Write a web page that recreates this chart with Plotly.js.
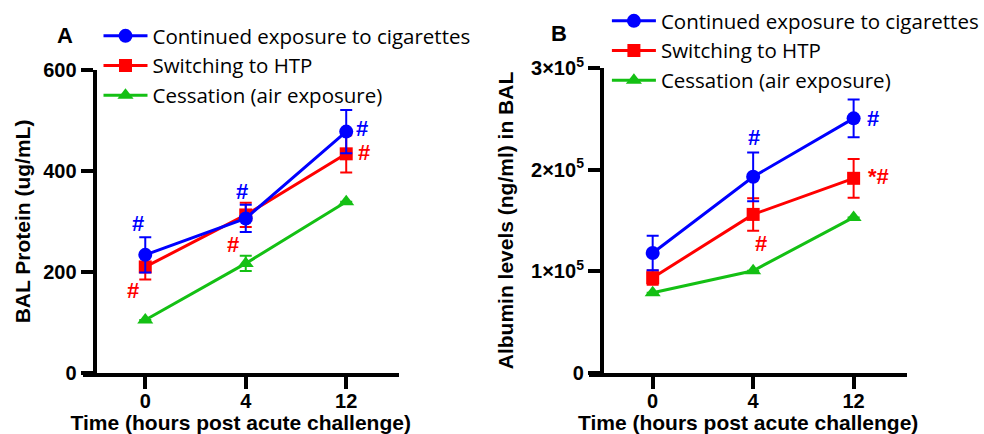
<!DOCTYPE html>
<html>
<head>
<meta charset="utf-8">
<script src="https://cdn.plot.ly/plotly-3.0.1.min.js"></script>
<style>html,body{margin:0;padding:0;background:#fff;}#chart{width:984px;height:434px;}</style>
</head>
<body>
<div id="chart"></div>
<script>
// ---- data ----
const timeLabels = ["0", "4", "12"];
const seriesNames = ["Continued exposure to cigarettes", "Switching to HTP", "Cessation (air exposure)"];

// Panel A: BAL Protein (ug/mL)
const protCig = [234, 306, 478];
const protCigErr = [35, 27, 43];
const protHtp = [210, 313, 434];
const protHtpErr = [25, 24, 37];
const protAir = [105, 217, 339];
const protAirErr = [0, 15, 0];

// Panel B: Albumin (ng/ml)
const albCig = [118000, 193000, 250500];
const albCigErr = [17000, 24000, 18500];
const albHtp = [93700, 156000, 191500];
const albHtpErr = [7000, 16000, 19000];
const albAir = [79000, 100600, 153000];
const albAirErr = [0, 0, 0];

const albTickVals = [0, 100000, 200000, 300000];
const albTickText = ["0", "1×10<sup>5</sup>", "2×10<sup>5</sup>", "3×10<sup>5</sup>"];

// significance marks: [panel, series, index, text]
const sigMarks = [
  ["A", "cig", 0, "#"], ["A", "cig", 1, "#"], ["A", "cig", 2, "#"],
  ["A", "htp", 0, "#"], ["A", "htp", 1, "#"], ["A", "htp", 2, "#"],
  ["B", "cig", 1, "#"], ["B", "cig", 2, "#"],
  ["B", "htp", 1, "#"], ["B", "htp", 2, "*#"]
];
// label offsets in pixels (style)
const sigOffsets = [[-7,31],[-4,27],[16,3],[-12,-24],[-13,-30],[18,1],[1,39],[19,0],[8,-29],[25,2]];

// ---- style ----
const BLUE = "#0000FF", RED = "#FF0000", GREEN = "#14C014";
const W = 984, H = 434;
const px = v => v / W, py = v => 1 - v / H;
const FAM = "Liberation Sans, Arial, sans-serif";
const axisFont = {family: FAM, size: 20, color: "#000", weight: "bold"};
const titleFont = {family: FAM, size: 21, color: "#000", weight: "bold"};
const legendFont = {family: "Open Sans, sans-serif", size: 20.5, color: "#000"};

function mk(name, x, y, err, color, symbol, size, xa, ya, legend, rank) {
  return {
    type: "scatter", mode: "lines+markers", name: name,
    x: x, y: y, xaxis: xa, yaxis: ya, legend: legend, legendrank: rank,
    line: {color: color, width: 3},
    marker: {color: color, symbol: symbol, size: size},
    error_y: {type: "data", array: err, visible: true, color: color, thickness: 2, width: 6},
    cliponaxis: false
  };
}

const traces = [
  mk(seriesNames[2], timeLabels, protAir, protAirErr, GREEN, "triangle-up", 14, "x", "y", "legend", 3),
  mk(seriesNames[1], timeLabels, protHtp, protHtpErr, RED, "square", 13, "x", "y", "legend", 2),
  mk(seriesNames[0], timeLabels, protCig, protCigErr, BLUE, "circle", 14, "x", "y", "legend", 1),
  mk(seriesNames[2], timeLabels, albAir, albAirErr, GREEN, "triangle-up", 14, "x2", "y2", "legend2", 3),
  mk(seriesNames[1], timeLabels, albHtp, albHtpErr, RED, "square", 13, "x2", "y2", "legend2", 2),
  mk(seriesNames[0], timeLabels, albCig, albCigErr, BLUE, "circle", 14, "x2", "y2", "legend2", 1)
];

const dataMap = {A: {cig: protCig, htp: protHtp}, B: {cig: albCig, htp: albHtp}};
const annotations = sigMarks.map((m, i) => ({
  xref: m[0] === "A" ? "x" : "x2", yref: m[0] === "A" ? "y" : "y2",
  x: m[2], y: dataMap[m[0]][m[1]][m[2]], text: "<b>" + m[3] + "</b>", showarrow: false,
  xanchor: "center", yanchor: "middle",
  xshift: sigOffsets[i][0], yshift: sigOffsets[i][1],
  font: {family: FAM, size: 22, color: m[1] === "cig" ? BLUE : RED}
}));
annotations.push({xref: "paper", yref: "paper", x: px(65), y: py(35), text: "<b>A</b>", showarrow: false,
  xanchor: "center", yanchor: "middle",
  font: {family: FAM, size: 22, color: "#000"}});
annotations.push({xref: "paper", yref: "paper", x: px(562), y: py(33), text: "<b>B</b>", showarrow: false,
  xanchor: "center", yanchor: "middle",
  font: {family: FAM, size: 22, color: "#000"}});

function xAxis(domain, range, anchor) {
  return {
    domain: domain, range: range, type: "category", anchor: anchor,
    showline: true, linecolor: "#000", linewidth: 4, showgrid: false, zeroline: false,
    ticks: "outside", ticklen: 12, tickwidth: 4, tickcolor: "#000",
    tickfont: axisFont, automargin: false, ticklabelstandoff: -5,
    title: {text: "Time (hours post acute challenge)", font: titleFont, standoff: 0}
  };
}
function yAxis(domain, range, position, title, standoff, extra) {
  return Object.assign({
    domain: domain, range: range, anchor: "free", position: position,
    showline: true, linecolor: "#000", linewidth: 4, showgrid: false, zeroline: false,
    ticks: "outside", ticklen: 12, tickwidth: 4, tickcolor: "#000",
    tickfont: axisFont, automargin: false,
    title: {text: title, font: titleFont, standoff: standoff}
  }, extra || {});
}

const layout = {
  width: W, height: H, margin: {l: 0, r: 0, t: 0, b: 0},
  paper_bgcolor: "#fff", plot_bgcolor: "#fff", showlegend: true,
  xaxis: xAxis([px(83), px(401)], [-0.624, 2.525], "y"),
  yaxis: yAxis([py(373), py(70)], [0, 600], px(95), "BAL Protein (ug/mL)", 6, {tickvals: [0, 200, 400, 600]}),
  xaxis2: xAxis([px(592), px(912)], [-0.634, 2.535], "y2"),
  yaxis2: yAxis([py(373), py(68)], [0, 300000], px(605), "Albumin levels (ng/ml) in BAL", 11,
    {tickvals: albTickVals, ticktext: albTickText}),
  legend: {x: px(99), y: py(16), xanchor: "left", yanchor: "top", font: legendFont, bgcolor: "rgba(0,0,0,0)",
    traceorder: "normal", itemwidth: 44},
  legend2: {x: px(610), y: py(1), xanchor: "left", yanchor: "top", font: legendFont, bgcolor: "rgba(0,0,0,0)",
    traceorder: "normal", itemwidth: 44},
  annotations: annotations
};

Plotly.newPlot("chart", traces, layout, {staticPlot: true});
</script>
</body>
</html>
